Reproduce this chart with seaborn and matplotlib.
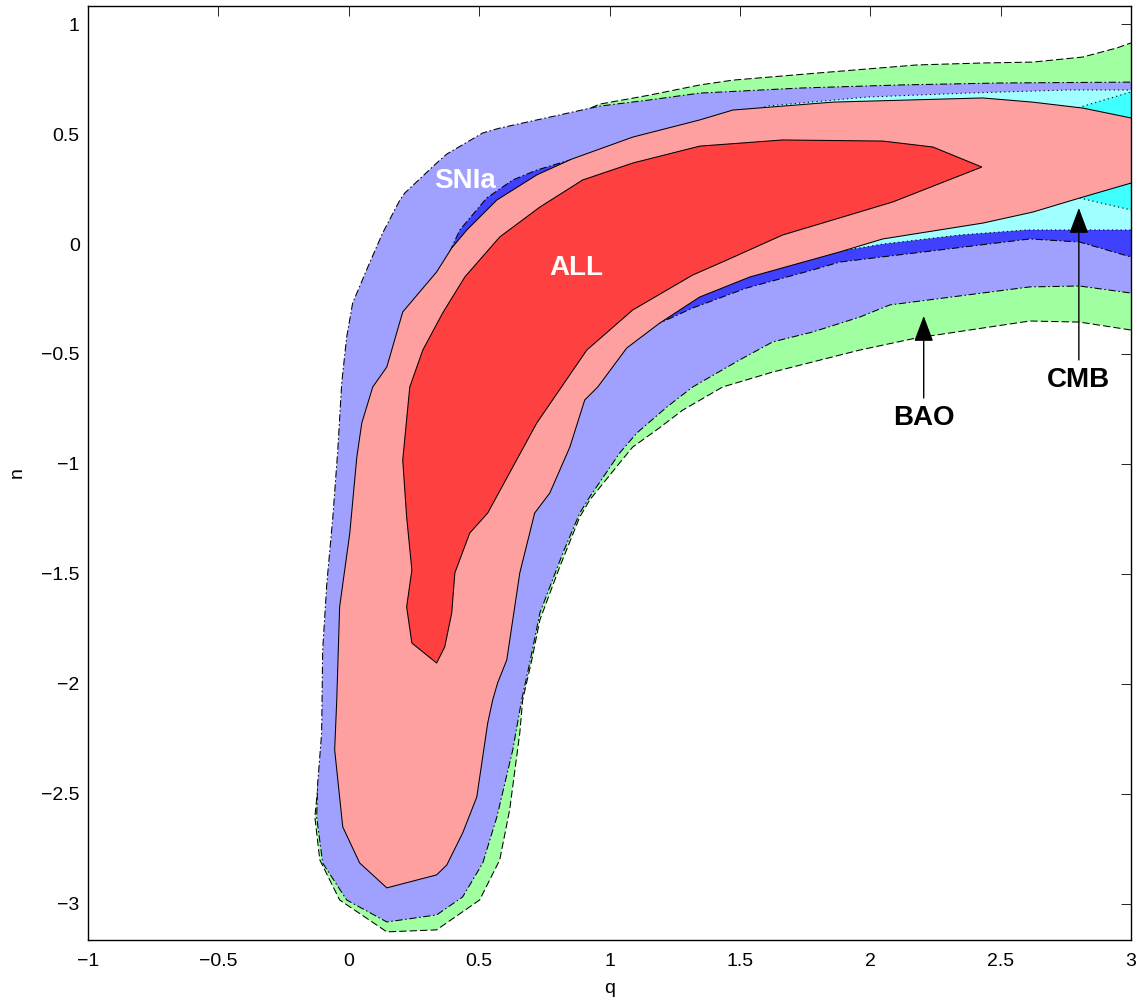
import matplotlib
matplotlib.use("Agg")
import matplotlib.pyplot as plt
import seaborn as sns

# ---------------- data (q, n) boundaries of confidence regions ----------------
# BAO 2-sigma (green)
bao_q = [3.05, 3.0, 2.945, 2.815, 2.623, 2.431, 2.178, 1.795, 1.473, 1.346, 1.154, 0.963, 0.771,
         0.464, 0.272, 0.119, 0.023, -0.015, -0.054, -0.081, -0.09, -0.111, -0.130, -0.111, -0.035,
         0.146, 0.337, 0.502, 0.579, 0.617, 0.656, 0.667, 0.702, 0.733, 0.809, 0.886, 0.924, 1.039,
         1.089, 1.181, 1.281, 1.434, 1.626, 1.703, 1.960, 2.178, 2.612, 2.803, 3.0, 3.05]
bao_n = [0.93, 0.914, 0.891, 0.850, 0.827, 0.823, 0.814, 0.777, 0.745, 0.723, 0.677, 0.636, 0.541,
         0.427, 0.245, -0.073, -0.482, -0.936, -1.391, -1.845, -2.177, -2.377, -2.605, -2.800, -2.982,
         -3.127, -3.118, -2.982, -2.800, -2.573, -2.223, -2.073, -1.891, -1.709, -1.468, -1.241, -1.164,
         -0.995, -0.923, -0.845, -0.755, -0.650, -0.582, -0.559, -0.482, -0.427, -0.350, -0.355, -0.391, -0.40]

# SNIa 2-sigma (light blue)
sn2_q = [3.05, 3.0, 2.497, 2.113, 1.730, 1.346, 1.154, 0.963, 0.771, 0.579, 0.514, 0.376, 0.337,
         0.215, 0.196, 0.130, 0.073, 0.015, -0.008, -0.027, -0.042, -0.061, -0.084, -0.100, -0.104,
         -0.119, -0.123, -0.100, -0.008, 0.146, 0.337, 0.437, 0.514, 0.568, 0.629, 0.663, 0.694, 0.733,
         0.821, 0.886, 0.924, 1.039, 1.105, 1.220, 1.319, 1.499, 1.626, 1.779, 1.960, 2.075, 2.612,
         2.803, 3.0, 3.05]
sn2_n = [0.74, 0.736, 0.732, 0.723, 0.709, 0.686, 0.655, 0.627, 0.577, 0.527, 0.505, 0.409, 0.368,
         0.232, 0.200, 0.050, -0.105, -0.268, -0.423, -0.632, -0.936, -1.241, -1.541, -1.845, -2.223,
         -2.450, -2.605, -2.814, -2.982, -3.082, -3.050, -2.968, -2.814, -2.605, -2.300, -2.073, -1.905,
         -1.677, -1.405, -1.223, -1.150, -0.950, -0.859, -0.741, -0.650, -0.527, -0.445, -0.400, -0.332,
         -0.277, -0.195, -0.191, -0.223, -0.225]

# SNIa 1-sigma (blue)
sn1_q = [0.387, 0.426, 0.529, 0.629, 0.721, 0.848, 1.039, 1.346, 1.730, 2.113, 2.497, 3.05, 3.05,
         3.0, 2.803, 2.612, 2.267, 1.883, 1.779, 1.526, 1.319, 1.193, 0.963, 0.600, 0.430]
sn1_n = [-0.036, 0.064, 0.209, 0.291, 0.336, 0.382, 0.427, 0.450, 0.450, 0.427, 0.400, 0.350, -0.062,
         -0.059, 0.009, 0.023, -0.027, -0.082, -0.118, -0.200, -0.291, -0.359, -0.400, -0.400, -0.150]

# CMB 2-sigma (light cyan)
cmb2_q = [1.346, 1.603, 1.987, 2.370, 2.754, 3.0, 3.05, 3.05, 3.0, 2.600, 2.343, 2.050, 1.795, 1.600, 1.346]
cmb2_n = [0.500, 0.627, 0.668, 0.686, 0.700, 0.700, 0.700, 0.064, 0.064, 0.064, 0.041, 0.000, -0.050, -0.090, -0.150]

# CMB 1-sigma (cyan)
cmb1_q = [2.305, 2.650, 2.792, 3.0, 3.05, 3.05, 3.0, 2.803, 2.650, 2.305]
cmb1_n = [0.500, 0.577, 0.618, 0.691, 0.70, 0.15, 0.155, 0.209, 0.200, 0.230]

# ALL 2-sigma (pink)
all2_q = [0.146, 0.042, -0.023, -0.054, -0.046, -0.035, 0.004, 0.031, 0.050, 0.092, 0.146, 0.207,
          0.337, 0.395, 0.453, 0.568, 0.721, 0.855, 1.089, 1.346, 1.473, 1.856, 2.431, 2.623, 2.815,
          3.0, 3.05, 3.05, 3.0, 2.803, 2.623, 2.431, 2.048, 1.883, 1.538, 1.346, 1.193, 1.066, 0.955,
          0.905, 0.848, 0.771, 0.713, 0.656, 0.606, 0.571, 0.552, 0.533, 0.491, 0.437, 0.376, 0.337]
all2_n = [-2.927, -2.814, -2.650, -2.300, -2.073, -1.650, -1.314, -0.968, -0.814, -0.650, -0.559,
          -0.309, -0.127, -0.018, 0.064, 0.200, 0.314, 0.386, 0.486, 0.564, 0.609, 0.645, 0.664, 0.645,
          0.618, 0.573, 0.562, 0.289, 0.277, 0.209, 0.145, 0.095, 0.023, -0.036, -0.150, -0.241, -0.359,
          -0.473, -0.650, -0.709, -0.923, -1.132, -1.223, -1.495, -1.891, -1.995, -2.073, -2.177,
          -2.514, -2.677, -2.823, -2.868]

# ALL 1-sigma (red)
all1_q = [0.337, 0.242, 0.222, 0.242, 0.222, 0.207, 0.234, 0.284, 0.360, 0.445, 0.579, 0.733, 0.897,
          1.089, 1.346, 1.664, 2.048, 2.240, 2.428, 2.086, 1.895, 1.664, 1.450, 1.319, 1.089, 0.913,
          0.721, 0.629, 0.533, 0.464, 0.407, 0.395, 0.368]
all1_n = [-1.905, -1.814, -1.650, -1.482, -1.241, -0.982, -0.650, -0.482, -0.314, -0.150, 0.032, 0.168,
          0.291, 0.368, 0.445, 0.473, 0.468, 0.441, 0.350, 0.191, 0.123, 0.041, -0.073, -0.141, -0.300,
          -0.482, -0.814, -1.014, -1.223, -1.314, -1.495, -1.677, -1.832]

# labels and arrows
labels = ["SNIa", "ALL", "BAO", "CMB"]
label_q = [0.445, 0.871, 2.205, 2.80]
label_n = [0.286, -0.109, -0.79, -0.618]
label_color = ["white", "white", "black", "black"]
arrow_q = [2.205, 2.80]
arrow_tip_n = [-0.327, 0.164]
arrow_tail_n = [-0.70, -0.527]

x_ticks = [-1, -0.5, 0, 0.5, 1, 1.5, 2, 2.5, 3]
y_ticks = [-3, -2.5, -2, -1.5, -1, -0.5, 0, 0.5, 1]

# ---------------- style ----------------
sns.set_theme(style="white")
plt.rcParams['font.family'] = ['Liberation Sans', 'DejaVu Sans']

fig = plt.figure(figsize=(11.42, 10.05), dpi=100)
ax = fig.add_axes([88 / 1142, 65 / 1005, (1131 - 88) / 1142, (940 - 6) / 1005])

lw = 0.75
layers = [
    (bao_q, bao_n, "#A0FFA0", (0, (7, 3))),
    (sn2_q, sn2_n, "#A0A0FF", (0, (7, 2.5, 1.5, 2.5))),
    (sn1_q, sn1_n, "#4040FF", (0, (7, 2.5, 1.5, 2.5))),
    (cmb2_q, cmb2_n, "#A0FFFF", (0, (1.2, 3))),
    (cmb1_q, cmb1_n, "#40FFFF", (0, (1.2, 3))),
    (all2_q, all2_n, "#FFA0A0", "solid"),
    (all1_q, all1_n, "#FF4040", "solid"),
]
for z, (qq, nn, col, ls) in enumerate(layers):
    ax.fill(qq, nn, facecolor=col, edgecolor="black", linewidth=lw, linestyle=ls, zorder=1 + z)

for t, q, n, c in zip(labels, label_q, label_n, label_color):
    ax.text(q, n, t, ha="center", va="center", fontsize=20, fontweight="bold", color=c, zorder=20)

for q, tip, tail in zip(arrow_q, arrow_tip_n, arrow_tail_n):
    ax.annotate("", xy=(q, tip), xytext=(q, tail),
                arrowprops=dict(arrowstyle="-|>,head_length=0.8,head_width=0.3", color="black",
                                lw=1.0, shrinkA=0, shrinkB=0, mutation_scale=20), zorder=20)

ax.set_xlim(-1, 3)
ax.set_ylim(-3.164, 1.082)
ax.set_xticks(x_ticks)
ax.set_yticks(y_ticks)
ax.set_xticklabels([f"{v:g}".replace("-", "\u2212") for v in x_ticks])
ax.set_yticklabels([f"{v:g}".replace("-", "\u2212") for v in y_ticks])
ax.tick_params(direction="in", length=7, width=0.6, top=True, right=True,
               labelsize=14, colors="black")
ax.tick_params(axis="x", pad=9.5)
ax.tick_params(axis="y", pad=6)
for s in ax.spines.values():
    s.set_visible(True)
    s.set_color("black")
    s.set_linewidth(1.0)
    s.set_zorder(30)
ax.set_xlabel("q", fontsize=14, color="black", labelpad=7)
ax.set_ylabel("n", fontsize=14, color="black", labelpad=11)
ax.grid(False)

fig.savefig("out.png", dpi=100, facecolor="white")
